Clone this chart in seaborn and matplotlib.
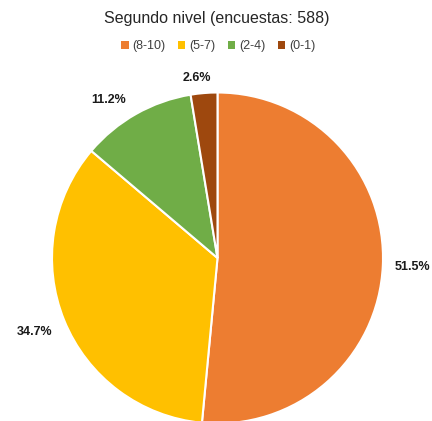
import matplotlib
matplotlib.use("Agg")
import matplotlib.pyplot as plt
import seaborn as sns
import numpy as np
from matplotlib.patches import Patch

# datos
categorias = ["(8-10)", "(5-7)", "(2-4)", "(0-1)"]
porcentajes = [51.5, 34.7, 11.2, 2.6]
colores = ["#ED7D31", "#FFC000", "#70AD47", "#9E480E"]
titulo = "Segundo nivel (encuestas: 588)"

sns.set_style("white")
plt.rcParams["font.family"] = ["Liberation Sans", "DejaVu Sans"]

fig = plt.figure(figsize=(4.32, 4.21), dpi=100)
ax = fig.add_axes([52 / 432, (163 - 165.5) / 421, 331 / 432, 331 / 421])

paleta = sns.color_palette(colores)
cunas, textos, autotextos = ax.pie(
    porcentajes,
    colors=paleta,
    startangle=90,
    counterclock=False,
    radius=1.0,
    autopct=lambda p: f"{p:.1f}%",
    pctdistance=1.17,
    wedgeprops=dict(edgecolor="white", linewidth=1.5),
    textprops=dict(fontsize=9, fontweight="bold", color="#1a1a1a"),
)

# colocar etiquetas como en la hoja de cálculo (ajuste fino por sector)
distancias = [1.18, 1.19, 1.16, 1.095]
desfase = [0, 0, 5, 2]
for cuna, txt, d, off in zip(cunas, autotextos, distancias, desfase):
    ang = np.deg2rad((cuna.theta1 + cuna.theta2) / 2 + off)
    txt.set_position((d * np.cos(ang), d * np.sin(ang)))

ax.set_xlim(-1, 1)
ax.set_ylim(-1, 1)
ax.set_aspect("equal")
ax.axis("off")

fig.text(0.502, 1 - 18 / 421, titulo, ha="center", va="center",
         fontsize=11.5, color="#262626")

manejadores = [Patch(facecolor=c, edgecolor="none") for c in colores]
fig.legend(manejadores, categorias, loc="center", bbox_to_anchor=(0.505, 1 - 46 / 421),
           ncol=4, frameon=False, fontsize=9, handlelength=0.6, handleheight=0.6,
           handletextpad=0.3, columnspacing=1.0, labelcolor="#404040")

fig.savefig("out.png", dpi=100)
